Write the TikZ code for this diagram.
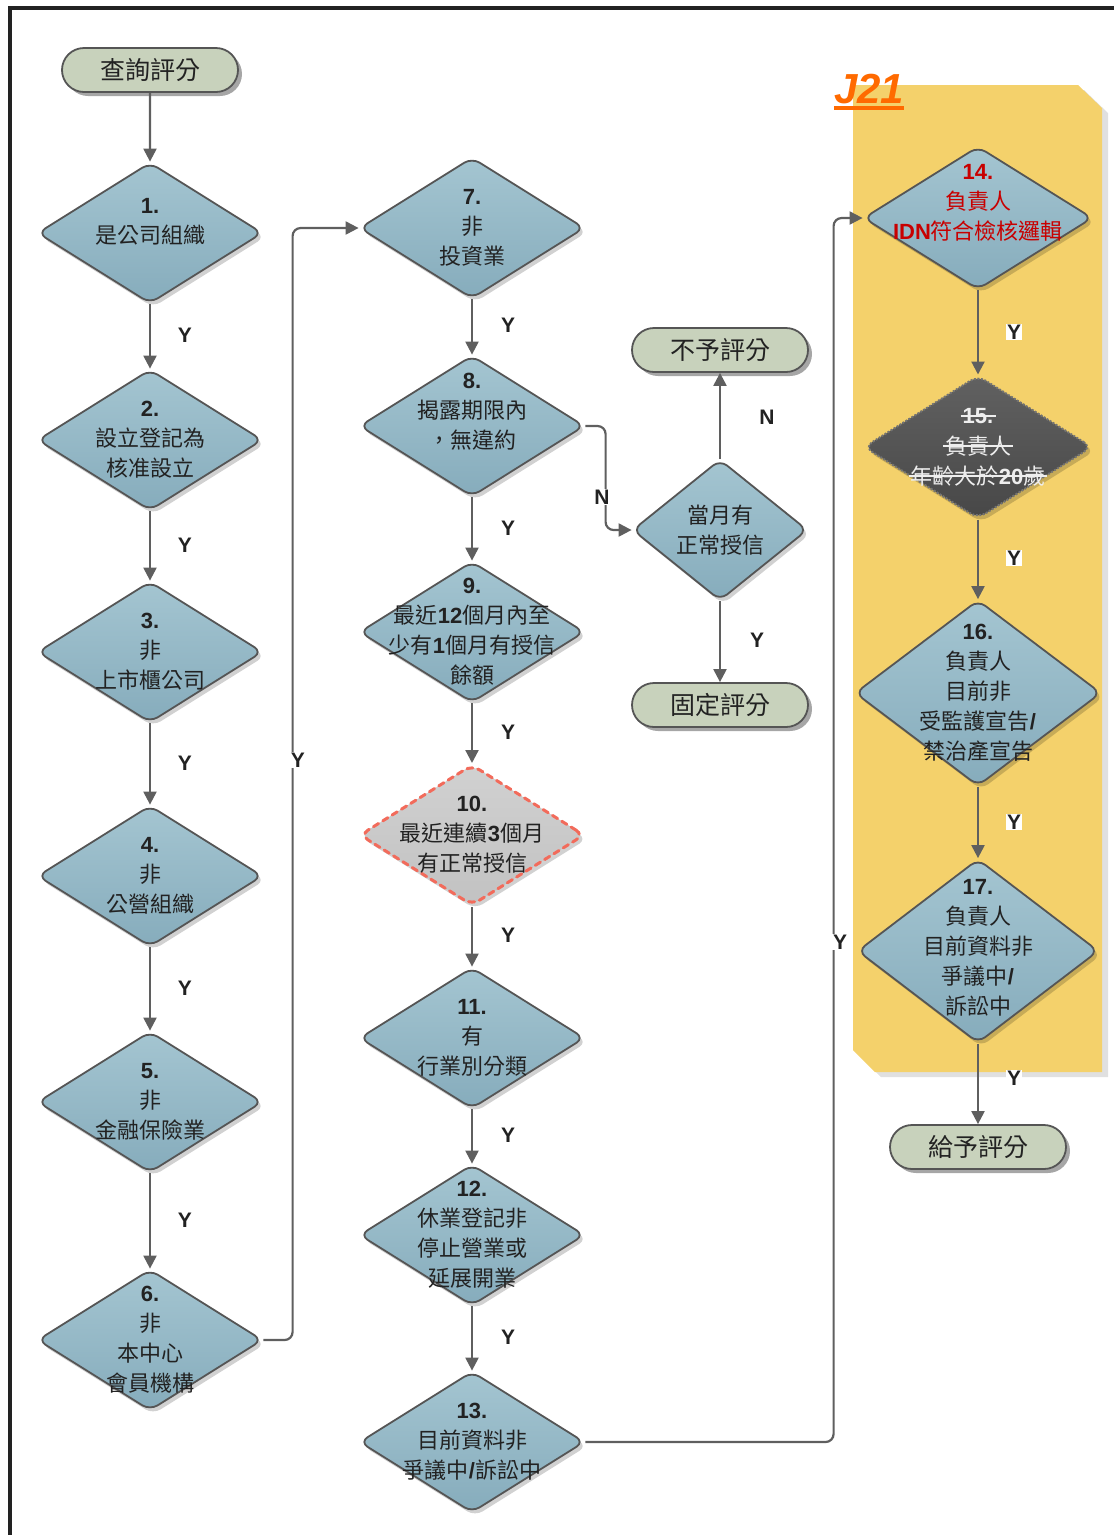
\documentclass[tikz,border=0pt]{standalone}
\usepackage{fontspec}
\setmainfont{Noto Sans CJK TC}
\newfontfamily\arial{Liberation Sans}
\usetikzlibrary{shapes.geometric,shapes.misc,arrows.meta,shadows,calc}
\definecolor{framec}{HTML}{222222}
\definecolor{arrowc}{HTML}{5F5F5F}
\definecolor{borderc}{HTML}{555555}
\definecolor{pillc}{HTML}{C8D2BC}
\definecolor{diatop}{HTML}{A4C5D1}
\definecolor{diabot}{HTML}{86ACBC}
\definecolor{yellowc}{HTML}{F4D16B}
\definecolor{orangec}{HTML}{FF6A00}
\definecolor{redc}{HTML}{C80000}
\definecolor{textc}{HTML}{222222}
\definecolor{dashred}{HTML}{F26B5B}
\definecolor{strikec}{HTML}{EEEEEE}
\newcommand\B[1]{{\arial\bfseries #1}}
\begin{document}
\begin{tikzpicture}[x=1pt,y=-1pt,
  dia/.style={diamond, draw=borderc, line width=1.8pt, rounded corners=9pt,
    top color=diatop, bottom color=diabot, minimum width=225pt, minimum height=141pt,
    inner sep=0pt, drop shadow={shadow xshift=3pt, shadow yshift=-4pt, opacity=0.18, fill=black}},
  pill/.style={rounded rectangle, draw=borderc, line width=1.8pt, fill=pillc,
    minimum width=176pt, minimum height=44pt, inner sep=0pt,
    font=\fontsize{25}{25}\selectfont, text=textc,
    drop shadow={shadow xshift=4pt, shadow yshift=-4pt, opacity=0.35, fill=black}},
  txt/.style={align=center, font=\fontsize{22}{30}\selectfont, text=textc, inner sep=0pt},
  stk/.style={font=\fontsize{22}{22}\selectfont, text=strikec, inner sep=0pt},
  arr/.style={draw=arrowc, line width=2.2pt, rounded corners=8pt,
    -{Triangle[length=13pt,width=13pt]}},
  yl/.style={font=\arial\bfseries\fontsize{21}{21}\selectfont, text=textc, fill=white, inner sep=1pt}]
\useasboundingbox (0,0) rectangle (1114,1535);
% frame
\draw[framec, line width=4pt] (10,1535) -- (10,8) -- (1114,8);
% J21 panel
\fill[black!12] (859,90) -- (1084,90) -- (1108,113) -- (1108,1077) -- (881,1077) -- (859,1055) -- cycle;
\fill[yellowc] (853,85) -- (1078,85) -- (1102,108) -- (1102,1072) -- (875,1072) -- (853,1050) -- cycle;
\node[font=\arial\bfseries\itshape\fontsize{42}{42}\selectfont, text=orangec, inner sep=0pt, anchor=base west] (j21) at (834,103) {J21};
\draw[orangec, line width=4pt] ($(j21.base west)+(0,5)$) -- ($(j21.base east)+(0,5)$);

% column 1
\node[pill] (start) at (150,70) {查詢評分};
\node[dia] (d1) at (150,233) {};
\node[txt] (t1) at (150,222) {\B{1.}\\是公司組織};
\node[dia] (d2) at (150,440) {};
\node[txt] (t2) at (d2) {\B{2.}\\設立登記為\\核准設立};
\node[dia] (d3) at (150,652) {};
\node[txt] (t3) at (d3) {\B{3.}\\非\\上市櫃公司};
\node[dia] (d4) at (150,876) {};
\node[txt] (t4) at (d4) {\B{4.}\\非\\公營組織};
\node[dia] (d5) at (150,1102) {};
\node[txt] (t5) at (d5) {\B{5.}\\非\\金融保險業};
\node[dia] (d6) at (150,1340) {};
\node[txt] (t6) at (d6) {\B{6.}\\非\\本中心\\會員機構};

% column 2
\node[dia] (d7) at (472,228) {};
\node[txt] (t7) at (d7) {\B{7.}\\非\\投資業};
\node[dia] (d8) at (472,426) {};
\node[txt] (t8) at (472,412) {\B{8.}\\揭露期限內\\，無違約};
\node[dia] (d9) at (472,632) {};
\node[txt] (t9) at (d9) {\B{9.}\\最近\B{12}個月內至\\少有\B{1}個月有授信\\餘額};
\node[dia, top color=black!18, bottom color=black!24, draw=dashred, line width=3pt,
  dash pattern=on 6pt off 5pt, line cap=round] (d10) at (472,835) {};
\node[txt] (t10) at (d10) {\B{10.}\\最近連續\B{3}個月\\有正常授信};
\node[dia] (d11) at (472,1038) {};
\node[txt] (t11) at (d11) {\B{11.}\\有\\行業別分類};
\node[dia] (d12) at (472,1235) {};
\node[txt] (t12) at (d12) {\B{12.}\\休業登記非\\停止營業或\\延展開業};
\node[dia] (d13) at (472,1442) {};
\node[txt] (t13) at (d13) {\B{13.}\\目前資料非\\爭議中\B{/}訴訟中};

% column 3
\node[pill] (none) at (720,350) {不予評分};
\node[dia, minimum width=175pt] (dq) at (720,530) {};
\node[txt] (tq) at (dq) {當月有\\正常授信};
\node[pill] (fixed) at (720,705) {固定評分};

% column 4
\node[dia, minimum width=229pt, minimum height=143pt] (d14) at (978,218) {};
\node[txt, text=redc] (t14) at (978,203) {\B{14.}\\負責人\\\B{IDN}符合檢核邏輯};
\node[dia, minimum width=228pt, minimum height=143pt, top color=black!62, bottom color=black!72,
  draw=black!55, dash pattern=on 2pt off 1.5pt, line width=2pt] (d15) at (978,447) {};
\node[stk] (t15a) at (978,416) {\B{15.}};
\node[stk] (t15b) at (978,446) {負責人};
\node[stk] (t15c) at (978,476) {年齡大於\B{20}歲};
\foreach \n in {t15a,t15b,t15c}
  \draw[strikec, line width=1.2pt] ([xshift=-2pt]\n.west) -- ([xshift=2pt]\n.east);
\node[dia, minimum width=246pt, minimum height=186pt] (d16) at (978,693) {};
\node[txt] (t16) at (d16) {\B{16.}\\負責人\\目前非\\受監護宣告\B{/}\\禁治產宣告};
\node[dia, minimum width=241pt, minimum height=184pt] (d17) at (978,951) {};
\node[txt] (t17) at (978,948) {\B{17.}\\負責人\\目前資料非\\爭議中\B{/}\\訴訟中};
\node[pill] (give) at (978,1147) {給予評分};

% connectors
\draw[arr] (start) -- (d1.north);
\draw[arr] (d1.south) -- (d2.north);
\draw[arr] (d2.south) -- (d3.north);
\draw[arr] (d3.south) -- (d4.north);
\draw[arr] (d4.south) -- (d5.north);
\draw[arr] (d5.south) -- (d6.north);
\draw[arr] (d6.east) -| ([xshift=-66pt]d7.west) -- (d7.west);
\draw[arr] (d7.south) -- (d8.north);
\draw[arr] (d8.south) -- (d9.north);
\draw[arr] (d9.south) -- (d10.north);
\draw[arr] (d10.south) -- (d11.north);
\draw[arr] (d11.south) -- (d12.north);
\draw[arr] (d12.south) -- (d13.north);
\draw[arr] (d8.east) -| ([xshift=-26pt]dq.west) -- (dq.west);
\draw[arr] (dq.north) -- (none.south);
\draw[arr] (dq.south) -- (fixed.north);
\draw[arr] (d13.east) -| ([xshift=-29pt]d14.west) -- (d14.west);
\draw[arr] (d14.south) -- (d15.north);
\draw[arr] (d15.south) -- (d16.north);
\draw[arr] (d16.south) -- (d17.north);
\draw[arr] (d17.south) -- (give.north);

% labels
\node[yl] (y1) at (185,335) {Y};
\node[yl] (y2) at (185,545) {Y};
\node[yl] (y3) at (185,763) {Y};
\node[yl] (y4) at (185,988) {Y};
\node[yl] (y5) at (185,1220) {Y};
\node[yl] (y6) at (298,760) {Y};
\node[yl] (y7) at (508,325) {Y};
\node[yl] (y8) at (508,528) {Y};
\node[yl] (y9) at (508,732) {Y};
\node[yl] (y10) at (508,935) {Y};
\node[yl] (y11) at (508,1135) {Y};
\node[yl] (y12) at (508,1337) {Y};
\node[yl] (n1) at (602,497) {N};
\node[yl] (n2) at (767,417) {N};
\node[yl] (y13) at (757,640) {Y};
\node[yl] (y14) at (840,942) {Y};
\node[yl] (y15) at (1014,332) {Y};
\node[yl] (y16) at (1014,558) {Y};
\node[yl] (y17) at (1014,822) {Y};
\node[yl] (y18) at (1014,1078) {Y};
\end{tikzpicture}
\end{document}
